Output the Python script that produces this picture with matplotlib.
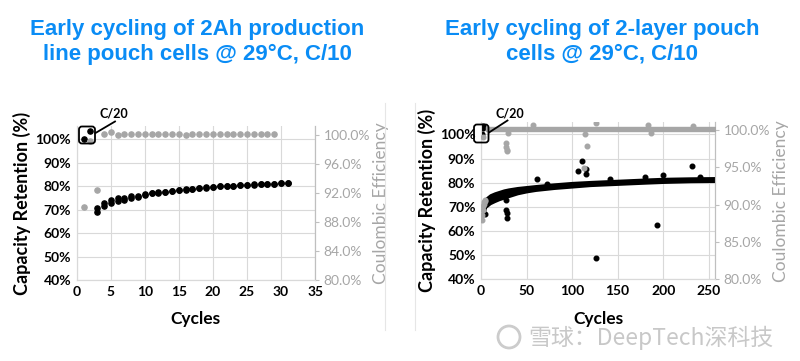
import numpy as np
import matplotlib
matplotlib.use("Agg")
import matplotlib.pyplot as plt
from matplotlib.patches import FancyBboxPatch, Circle
from matplotlib.ticker import FuncFormatter

plt.rcParams['font.family'] = ['Lato', 'DejaVu Sans']

BLUE = '#0A8CF5'
GREY = '#a6a6a6'
GRID = '#d9d9d9'

# ---- left panel: 2Ah production line pouch cells ----
c20_cyc = [1, 2]
c20_cap = [100.0, 103.7]
cyc_l = list(range(3, 32))
cap_hi = [70.6, 72.7, 74.1, 74.8, 74.9, 75.8, 75.9, 76.5, 77.0, 77.4,
          77.7, 78.0, 78.4, 78.7, 78.8, 79.2, 79.5, 79.8, 80.0, 80.1,
          80.3, 80.5, 80.6, 80.8, 80.9, 81.0, 81.1, 81.3, 81.5]
cap_lo = [69.1, 71.6, 72.8, 73.7, 74.3, 75.1, 75.4, 76.3, 76.9, 77.3,
          77.6, 77.9, 78.3, 78.6, 78.7, 79.1, 79.4, 79.7, 79.9, 80.0,
          80.2, 80.4, 80.5, 80.7, 80.8, 80.9, 81.0, 81.2, 81.4]
ce_cyc_l = list(range(1, 30))
ce_l = [90.1, 99.2, 92.4, 100.1, 100.4, 100.0, 100.2, 100.2, 100.2, 100.1,
        100.2, 100.2, 100.2, 100.1, 100.1, 100.0, 100.1, 100.1, 100.1, 100.1,
        100.2, 100.1, 100.2, 100.1, 100.2, 100.2, 100.1, 100.2, 100.1]

# ---- right panel: 2-layer pouch cells ----
band_cyc = [3, 5, 10, 15, 20, 25, 30, 40, 50, 60, 80, 100, 120, 150, 180, 200, 230, 257]
band_hi = [71.0, 73.5, 75.0, 75.8, 76.4, 77.0, 77.4, 78.0, 78.4, 78.8,
           79.5, 80.1, 80.5, 81.0, 81.5, 81.8, 82.0, 82.1]
band_lo = [66.5, 69.8, 71.3, 72.2, 73.0, 73.6, 74.2, 75.4, 76.2, 76.8,
           77.6, 78.2, 78.8, 79.3, 79.8, 80.1, 80.4, 80.5]
out_cyc = [1, 2, 2, 4, 27, 27, 28, 28, 62, 72, 106, 111, 115, 115, 126,
           142, 180, 193, 200, 232, 240]
out_cap = [100.0, 102.5, 103.5, 67.0, 72.8, 68.7, 67.6, 65.5, 81.4, 79.6,
           85.0, 89.1, 85.7, 83.4, 49.0, 81.5, 82.2, 62.5, 83.2, 86.9, 82.4]
ce_band_cyc = [5, 257]
ce_band_hi = [100.35, 100.35]
ce_band_lo = [99.85, 99.85]
ce_out_cyc = [1, 1, 2, 2, 3, 3, 4, 4, 2, 27, 27, 28, 28, 113, 116,
              57, 126, 183, 233, 30, 114, 187]
ce_out = [87.9, 88.6, 89.3, 89.8, 90.1, 90.3, 90.5, 90.6, 99.1, 98.2,
          97.7, 97.3, 97.2, 94.9, 97.9, 100.7, 100.9, 100.7, 100.5, 99.6,
          99.5, 99.6]

fig = plt.figure(figsize=(8, 3.61), dpi=100)
px = fig.dpi_scale_trans  # inches; 1 inch = 100 px


def P(x, y):
    # reference pixel -> inches from bottom-left
    return (x / 100, (361 - y) / 100)


def style(ax, ax2, xmax, xstep, ylim, y2lim, y2ticks):
    ax.set_xlim(0, xmax)
    ax.set_ylim(*ylim)
    ax2.set_ylim(*y2lim)
    ax.set_xticks(np.arange(0, xmax + 0.1, xstep))
    ax.set_yticks(np.arange(40, 101, 10))
    ax.yaxis.set_major_formatter(FuncFormatter(lambda v, p: f"{v:.0f}%"))
    ax2.set_yticks(y2ticks)
    ax2.yaxis.set_major_formatter(FuncFormatter(lambda v, p: f"{v:.1f}%"))
    ax.grid(True, color=GRID, lw=0.8)
    ax.set_axisbelow(True)
    for a in (ax, ax2):
        a.spines['top'].set_visible(False)
        a.spines['left'].set_color(GRID)
        a.spines['bottom'].set_color(GRID)
        a.spines['right'].set_color('#bfbfbf')
    ax.tick_params(axis='both', length=0, labelsize=10, pad=4)
    for t in ax.get_xticklabels() + ax.get_yticklabels():
        t.set_fontweight('bold')
    ax2.tick_params(axis='y', length=3, color='#bfbfbf', labelsize=10,
                    labelcolor=GREY, pad=3)
    ax.set_xlabel('Cycles', fontsize=12.5, fontweight='bold', labelpad=10)
    ax.set_ylabel('Capacity Retention (%)', fontsize=13, fontweight='bold', labelpad=3)
    ax2.set_ylabel('Coulombic Efficiency', fontsize=12.5, color=GREY, labelpad=2)


def c20_marker(box, line, text_xy):
    x0, y0, x1, y1 = box
    bx, by = P(x0, y1)
    fig.add_artist(FancyBboxPatch((bx, by), (x1 - x0) / 100, (y1 - y0) / 100,
                                  boxstyle="round,pad=0,rounding_size=0.03",
                                  transform=px, fill=False, ec='black', lw=1.3))
    (lx0, ly0), (lx1, ly1) = P(*line[0]), P(*line[1])
    fig.add_artist(plt.Line2D([lx0, lx1], [ly0, ly1], transform=px, color='black', lw=1.3))
    tx, ty = P(*text_xy)
    fig.text(tx, ty, 'C/20', transform=px, fontsize=9, fontweight='bold',
             ha='center', va='center')


# left panel
axL = fig.add_axes([0.0959, 0.2244, 0.2979, 0.4266])
axL2 = axL.twinx()
style(axL, axL2, 35, 5, (40, 105.7), (80, 101.24), np.arange(80, 100.1, 4))
axL.scatter(cyc_l, cap_hi, s=14, color='black', zorder=3)
axL.scatter(cyc_l, cap_lo, s=14, color='black', zorder=3)
axL.scatter(c20_cyc, c20_cap, s=14, color='black', zorder=3, clip_on=False)
axL2.scatter(ce_cyc_l, ce_l, s=14, color=GREY, zorder=3)
c20_marker((79, 126.5, 95, 143.5), ((115, 121.5), (95.5, 133)), (114, 114))

# right panel
axR = fig.add_axes([0.6013, 0.2263, 0.2925, 0.4357])
axR2 = axR.twinx()
style(axR, axR2, 257, 50, (40, 105.1), (80, 101.07), np.arange(80, 100.1, 5))
axR.fill_between(band_cyc, band_lo, band_hi, color='black', lw=1.5, ec='black', zorder=3)
axR.scatter(out_cyc, out_cap, s=11, color='black', zorder=3)
axR2.fill_between(ce_band_cyc, ce_band_lo, ce_band_hi, color=GREY, lw=1, ec=GREY, zorder=3)
axR2.scatter(ce_out_cyc, ce_out, s=11, color=GREY, zorder=3)
c20_marker((474, 124.5, 488.5, 142.5), ((507.5, 120.5), (489, 132.5)), (509.5, 114))

# titles
for x, lines in [(197, ['Early cycling of 2Ah production', 'line pouch cells @ 29°C, C/10']),
                 (602, ['Early cycling of 2-layer pouch', 'cells @ 29°C, C/10'])]:
    for y, s in zip([30, 54], lines):
        fig.text(x / 800, 1 - y / 361, s, color=BLUE, fontsize=16, fontweight='bold',
                 family='Liberation Sans', ha='center', va='center')

# faint picture borders
for x in (385, 415):
    fig.add_artist(plt.Line2D([x / 800, x / 800], [1 - 103 / 361, 1 - 330 / 361],
                              color='#e6e6e6', lw=0.8))

# watermark
fig.add_artist(Circle(P(509, 337), 0.11, transform=px, fill=False, ec='#cccccc', lw=2))
fig.text(528 / 800, 1 - 338 / 361, '雪球：DeepTech深科技', color='#c8c8c8', fontsize=16.5,
         family=['Noto Sans CJK SC', 'DejaVu Sans'], ha='left', va='center')

fig.savefig('out.png', dpi=100)
